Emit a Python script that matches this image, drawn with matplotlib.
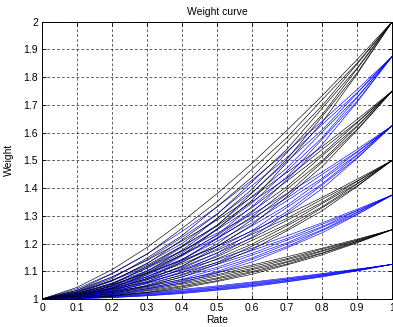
import matplotlib
matplotlib.use('Agg')
import matplotlib.pyplot as plt
import numpy as np

plt.rcParams['font.family'] = ['Liberation Sans', 'DejaVu Sans']

# sample points on the rate axis
rate = [0.0, 0.1, 0.2, 0.3, 0.4, 0.5, 0.6, 0.7, 0.8, 0.9, 1.0]

# normalised curve shapes (fraction of the extra weight reached)
shape_1 = [0, 0.042, 0.106, 0.186, 0.279, 0.380, 0.490, 0.609, 0.733, 0.864, 1]
shape_2 = [0, 0.031, 0.091, 0.162, 0.255, 0.351, 0.468, 0.583, 0.719, 0.851, 1]
shape_3 = [0, 0.026, 0.074, 0.148, 0.229, 0.333, 0.440, 0.568, 0.697, 0.848, 1]
shape_4 = [0, 0.019, 0.066, 0.127, 0.214, 0.305, 0.423, 0.541, 0.688, 0.833, 1]
shape_5 = [0, 0.017, 0.053, 0.117, 0.190, 0.290, 0.396, 0.529, 0.665, 0.830, 1]
shape_6 = [0, 0.012, 0.048, 0.099, 0.177, 0.265, 0.382, 0.505, 0.658, 0.816, 1]
shape_7 = [0, 0.010, 0.039, 0.092, 0.158, 0.252, 0.357, 0.493, 0.637, 0.812, 1]
shapes = [shape_1, shape_2, shape_3, shape_4, shape_5, shape_6, shape_7]

# final weight of each family at rate = 1
black_max = [1.25, 1.5, 1.75, 2.0]
blue_max = [1.125, 1.375, 1.625, 1.875]

fig = plt.figure(figsize=(3.93, 3.27), dpi=100)
ax = fig.add_axes([0.107, 0.0856, 0.891, 0.848])

x = np.array(rate)
for wmax in [1.125, 1.25, 1.375, 1.5, 1.625, 1.75, 1.875, 2.0]:
    color = 'k' if wmax in black_max else '#0000ff'
    for s in shapes:
        ax.plot(x, 1 + (wmax - 1) * np.array(s), color=color, lw=0.45)

ax.set_xlim(0, 1)
ax.set_ylim(1, 2)
ax.set_xticks(np.arange(0, 1.01, 0.1))
ax.set_yticks(np.arange(1, 2.01, 0.1))
ax.set_xticklabels(['0', '0.1', '0.2', '0.3', '0.4', '0.5', '0.6', '0.7', '0.8', '0.9', '1'])
ax.set_yticklabels(['1', '1.1', '1.2', '1.3', '1.4', '1.5', '1.6', '1.7', '1.8', '1.9', '2'])
ax.tick_params(direction='in', length=3, width=0.6, labelsize=7.5, pad=3,
               top=True, right=True)
ax.grid(True, color='#222222', linestyle=(0, (4, 3)), linewidth=0.5)
for sp in ax.spines.values():
    sp.set_linewidth(0.7)

ax.set_title('Weight curve', fontsize=7.5, pad=5)
ax.set_xlabel('Rate', fontsize=7.5, labelpad=1)
ax.set_ylabel('Weight', fontsize=7.5, labelpad=7)

fig.savefig('out.png', dpi=100)
